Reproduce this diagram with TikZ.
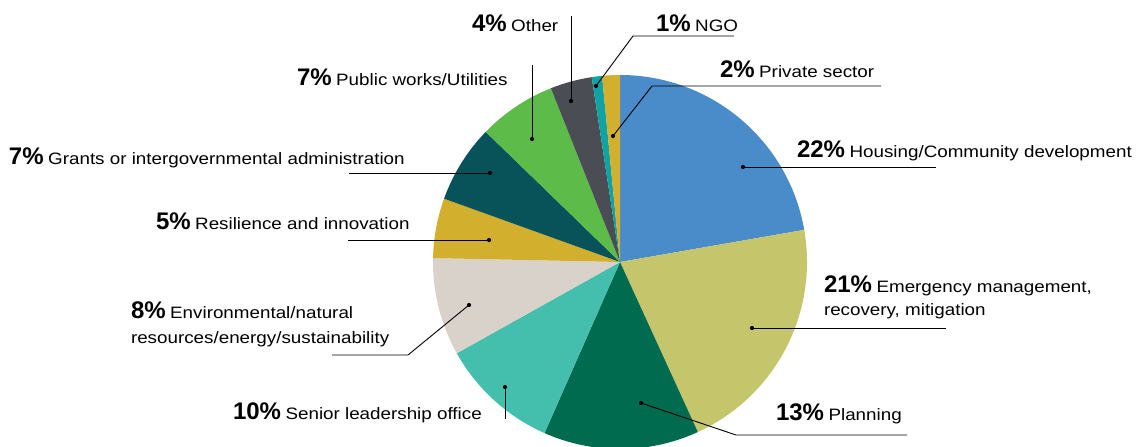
\documentclass[tikz,border=0pt]{standalone}
\usepackage{fontspec}
\newfontfamily\txtfont[FakeStretch=1.14]{Liberation Sans}
\newfontfamily\numfont{Liberation Sans}
\newcommand{\pielab}[2]{{\numfont\bfseries\fontsize{24pt}{27pt}\selectfont #1\%}\hspace{4.5pt}{\txtfont\fontsize{16.5pt}{20pt}\selectfont #2}}
\newcommand{\pietxt}[1]{{\txtfont\fontsize{16.5pt}{20pt}\selectfont #1}}
\definecolor{cHousing}{HTML}{4A8BC9}
\definecolor{cEmerg}{HTML}{C5C56B}
\definecolor{cPlan}{HTML}{006B4F}
\definecolor{cSenior}{HTML}{45BFAD}
\definecolor{cEnv}{HTML}{D9D2CB}
\definecolor{cResil}{HTML}{D2AF2C}
\definecolor{cGrants}{HTML}{08525A}
\definecolor{cPublic}{HTML}{5DBB4A}
\definecolor{cOther}{HTML}{4A4D53}
\definecolor{cNGO}{HTML}{0FA3A4}
\definecolor{cPrivate}{HTML}{D2AF2C}
\tikzset{
  lab/.style={anchor=base west, inner sep=0pt, outer sep=0pt},
  leader/.style={draw=black, line width=0.9pt},
  dotmark/.style={fill=black},
}
\begin{document}
\begin{tikzpicture}[x=1pt,y=-1pt]
\useasboundingbox (0,0) rectangle (1141,447);
% pie
\begin{scope}[shift={(620,262)}, yscale=-1]
  \coordinate (C) at (0,0);
  \foreach \a/\b/\c in {90/9.9/cHousing, 9.9/-65.4/cEmerg, -65.4/-113.8/cPlan,
      -113.8/-150.8/cSenior, -150.8/-181.2/cEnv, 178.8/160.2/cResil,
      160.2/135.9/cGrants, 135.9/111.7/cPublic, 111.7/98.7/cOther,
      98.7/95.5/cNGO, 95.5/90/cPrivate}{
    \fill[\c] (C) -- (\a:187) arc[start angle=\a, end angle=\b, radius=187] -- cycle;
  }
\end{scope}
% anchor points on slices
\coordinate (dOther) at (571,101);
\coordinate (dNGO) at (596,86);
\coordinate (dPrivate) at (613,136);
\coordinate (dHousing) at (743,167);
\coordinate (dEmerg) at (752,328);
\coordinate (dPlan) at (641,403);
\coordinate (dSenior) at (505,387);
\coordinate (dEnv) at (469,305);
\coordinate (dResil) at (489,240);
\coordinate (dGrants) at (490,173);
\coordinate (dPublic) at (532,139);
% leader ends
\coordinate (eOther) at (571,16);
\coordinate (kNGO) at (633,36);
\coordinate (eNGO) at (734,36);
\coordinate (kPrivate) at (652,86);
\coordinate (ePrivate) at (881,86);
\coordinate (eHousing) at (936,167);
\coordinate (eEmerg) at (946,328);
\coordinate (kPlan) at (736,435);
\coordinate (ePlan) at (907,435);
\coordinate (eSenior) at (505,419);
\coordinate (kEnv) at (408,355);
\coordinate (eEnv) at (332,355);
\coordinate (eResil) at (348,240);
\coordinate (eGrants) at (349,173);
\coordinate (ePublic) at (532,65);
% leaders
\draw[leader] (dOther) -- (eOther);
\draw[leader] (dNGO) -- (kNGO) -- (eNGO);
\draw[leader] (dPrivate) -- (kPrivate) -- (ePrivate);
\draw[leader] (dHousing) -- (eHousing);
\draw[leader] (dEmerg) -- (eEmerg);
\draw[leader] (dPlan) -- (kPlan) -- (ePlan);
\draw[leader] (dSenior) -- (eSenior);
\draw[leader] (dEnv) -- (kEnv) -- (eEnv);
\draw[leader] (dResil) -- (eResil);
\draw[leader] (dGrants) -- (eGrants);
\draw[leader] (dPublic) -- (ePublic);
\foreach \d in {dOther,dNGO,dPrivate,dHousing,dEmerg,dPlan,dSenior,dEnv,dResil,dGrants,dPublic}{
  \fill[dotmark] (\d) circle[radius=2.1];
}
% labels
\node[lab] (lOther) at (472,31) {\pielab{4}{Other}};
\node[lab] (lNGO) at (656,31) {\pielab{1}{NGO}};
\node[lab] (lPrivate) at (720,77) {\pielab{2}{Private sector}};
\node[lab] (lHousing) at (797,157) {\pielab{22}{Housing/Community development}};
\node[lab] (lEmerg) at (824,292) {\pielab{21}{Emergency management,}};
\node[lab] (lEmerg2) at (824,315) {\pietxt{recovery, mitigation}};
\node[lab] (lPlan) at (776,420) {\pielab{13}{Planning}};
\node[lab] (lSenior) at (233,419) {\pielab{10}{Senior leadership office}};
\node[lab] (lEnv) at (131,318) {\pielab{8}{Environmental/natural}};
\node[lab] (lEnv2) at (131,343) {\pietxt{resources/energy/sustainability}};
\node[lab] (lResil) at (156,229) {\pielab{5}{Resilience and innovation}};
\node[lab] (lGrants) at (9,164) {\pielab{7}{Grants or intergovernmental administration}};
\node[lab] (lPublic) at (297,85) {\pielab{7}{Public works/Utilities}};
\end{tikzpicture}
\end{document}
